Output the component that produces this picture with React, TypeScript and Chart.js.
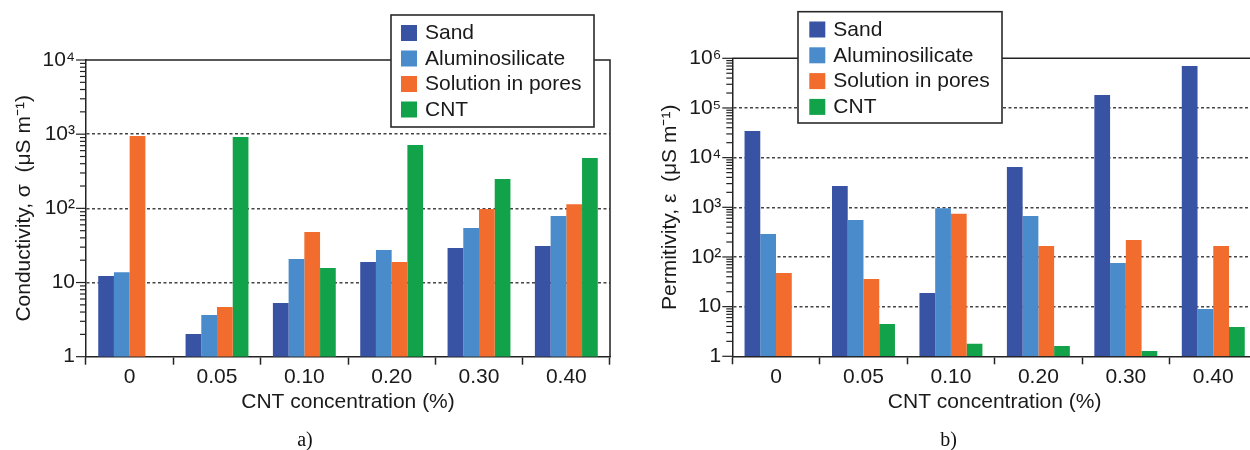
import React, { useEffect, useRef } from 'react';
import { Chart, registerables } from 'chart.js';

Chart.register(...registerables);
Chart.defaults.font.family = "'Liberation Sans', Arial, Helvetica, sans-serif";
Chart.defaults.color = '#1a1a1a';

// ---------- data ----------
const categories = ['0', '0.05', '0.10', '0.20', '0.30', '0.40'];
const seriesNames = ['Sand', 'Aluminosilicate', 'Solution in pores', 'CNT'];
const seriesColors = ['#3953a4', '#4a8bcb', '#f16c2d', '#12a34a'];

// a) Conductivity (µS m-1)
const condSand = [12.2, 2.02, 5.3, 18.9, 29.2, 31];
const condAlu = [13.8, 3.65, 20.7, 27.4, 54.2, 78.7];
const condSolution = [942, 4.68, 47.9, 18.9, 97.8, 114];
const condCNT = [null, 914, 15.7, 713, 248, 476];

// b) Permitivity (µS m-1)
const permSand = [34400, 2690, 18.8, 6470, 182000, 700000];
const permAlu = [290, 555, 954, 668, 75.6, 8.96];
const permSolution = [47.5, 36, 743, 166, 220, 166];
const permCNT = [null, 4.47, 1.79, 1.61, 1.28, 3.89];

const condRange = [1, 10000];
const permRange = [1, 1000000];

const xTitle = 'CNT concentration (%)';
const condTitle = 'Conductivity, σ  (μS m⁻¹)';
const permTitle = 'Permitivity, ε  (μS m⁻¹)';

// ---------- helpers ----------
const SUP: Record<string, string> = {
  '0': '⁰', '1': '¹', '2': '²', '3': '³', '4': '⁴', '5': '⁵', '6': '⁶', '7': '⁷', '8': '⁸', '9': '⁹', '-': '⁻',
};
function isDecade(v: number) {
  const l = Math.log10(v);
  return Math.abs(l - Math.round(l)) < 1e-6;
}
function decadeLabel(v: number) {
  if (!isDecade(v)) return '';
  const e = Math.round(Math.log10(v));
  if (e === 0) return '1';
  if (e === 1) return '10';
  return '10' + String(e).split('').map((c) => SUP[c]).join('');
}

const framePlugin = {
  id: 'frameTicks',
  afterDatasetsDraw(chart: any) {
    const { ctx, chartArea: a, scales } = chart;
    ctx.save();
    ctx.strokeStyle = '#222';
    ctx.lineWidth = 1.5;
    ctx.beginPath();
    ctx.moveTo(a.left, a.top);
    ctx.lineTo(a.right, a.top);
    ctx.lineTo(a.right, a.bottom);
    ctx.stroke();
    const y = scales.y;
    ctx.lineWidth = 1.2;
    const e0 = Math.floor(Math.log10(y.min));
    const e1 = Math.ceil(Math.log10(y.max));
    for (let e = e0; e <= e1; e++) {
      for (let m = 1; m <= 9; m++) {
        const v = m * Math.pow(10, e);
        if (v < y.min * 0.999 || v > y.max * 1.001) continue;
        const py = y.getPixelForValue(v);
        const len = m === 1 ? 10 : 6;
        ctx.beginPath();
        ctx.moveTo(a.left - len, py);
        ctx.lineTo(a.left, py);
        ctx.stroke();
      }
    }
    ctx.restore();
  },
};

function makeLegendPlugin(L: any) {
  return {
    id: 'boxLegend',
    afterDraw(chart: any) {
      const { ctx } = chart;
      ctx.save();
      ctx.fillStyle = '#ffffff';
      ctx.fillRect(L.x, L.y, L.w, L.h);
      ctx.strokeStyle = '#2a2a2a';
      ctx.lineWidth = 1.6;
      ctx.strokeRect(L.x, L.y, L.w, L.h);
      ctx.font = "21px 'Liberation Sans', Arial, sans-serif";
      ctx.textBaseline = 'middle';
      ctx.textAlign = 'left';
      chart.data.datasets.forEach((ds: any, i: number) => {
        const cy = L.row0 + i * L.step;
        ctx.fillStyle = ds.backgroundColor;
        ctx.fillRect(L.sqX, cy - L.sq / 2, L.sq, L.sq);
        ctx.fillStyle = '#1a1a1a';
        ctx.fillText(ds.label, L.textX, cy + 0.5);
      });
      ctx.restore();
    },
  };
}

function makeConfig(p: any) {
  const datasets = p.series.map((vals: any[], i: number) => ({
    label: seriesNames[i],
    data: vals,
    backgroundColor: seriesColors[i],
    borderWidth: 0,
  }));
  return {
    type: 'bar',
    data: { labels: categories, datasets },
    plugins: [framePlugin, makeLegendPlugin(p.legend)],
    options: {
      responsive: false,
      animation: false,
      devicePixelRatio: 1,
      layout: { padding: { top: p.padTop, right: p.padRight, left: 0, bottom: 0 } },
      datasets: { bar: { barPercentage: 1, categoryPercentage: 0.72 } },
      plugins: {
        legend: { display: false },
        tooltip: { enabled: false },
        title: {
          display: true,
          position: 'bottom',
          text: p.caption,
          color: '#111',
          font: { family: "'Liberation Serif', 'Times New Roman', serif", size: 20, weight: 'normal', lineHeight: 0.9 },
          padding: 0,
        },
      },
      scales: {
        x: {
          type: 'category',
          grid: { drawOnChartArea: false, drawTicks: true, tickLength: 8, tickColor: '#222', tickWidth: 1.5, offset: true },
          border: { display: true, color: '#222', width: 1.5 },
          ticks: { color: '#1a1a1a', font: { size: 21 }, padding: 0, maxRotation: 0, autoSkip: false },
          title: { display: true, text: xTitle, color: '#1a1a1a', font: { size: 21 }, padding: { top: 0, bottom: 17 } },
          afterFit: (s: any) => { s.height = p.xHeight; },
        },
        y: {
          type: 'logarithmic',
          min: p.range[0],
          max: p.range[1],
          grid: {
            drawTicks: false,
            lineWidth: 1.5,
            color: (c: any) => {
              const v = c.tick ? c.tick.value : NaN;
              if (!isFinite(v)) return 'rgba(0,0,0,0)';
              if (!isDecade(v) || v <= p.range[0] * 1.001 || v >= p.range[1] * 0.999) return 'rgba(0,0,0,0)';
              return '#444';
            },
          },
          border: { display: true, color: '#222', width: 1.5, dash: [3, 2.5] },
          ticks: {
            autoSkip: false,
            padding: 11,
            color: '#1a1a1a',
            font: { size: 21 },
            callback: (v: any) => decadeLabel(Number(v)),
          },
          title: { display: true, text: p.yTitle, color: '#1a1a1a', font: { size: 21 }, padding: { top: p.yTitlePad, bottom: 0 } },
          afterFit: (s: any) => { s.width = p.yWidth; },
        },
      },
    },
  };
}

const leftParams = {
  series: [condSand, condAlu, condSolution, condCNT],
  range: condRange,
  yTitle: condTitle,
  caption: 'a)',
  padTop: 60,
  padRight: 15,
  yWidth: 86,
  xHeight: 75.3,
  yTitlePad: 11.6,
  legend: { x: 391, y: 15, w: 203, h: 112, sqX: 401, textX: 425, row0: 33, step: 25.5, sq: 16 },
};

const rightParams = {
  series: [permSand, permAlu, permSolution, permCNT],
  range: permRange,
  yTitle: permTitle,
  caption: 'b)',
  padTop: 58.3,
  padRight: 15,
  yWidth: 92.3,
  xHeight: 75.7,
  yTitlePad: 17.4,
  legend: { x: 158, y: 11.7, w: 204, h: 111.3, sqX: 169.3, textX: 193.3, row0: 29.5, step: 25.8, sq: 16 },
};

function BarPanel({ params, left, width, height }: any) {
  const ref = useRef<HTMLCanvasElement | null>(null);
  useEffect(() => {
    if (!ref.current) return;
    const chart = new Chart(ref.current, makeConfig(params) as any);
    return () => chart.destroy();
  }, [params]);
  return (
    <canvas
      ref={ref}
      width={width}
      height={height}
      style={{ position: 'absolute', left, top: 0, width, height, display: 'block' }}
    />
  );
}

export default function App() {
  return (
    <div
      style={{
        position: 'fixed',
        left: 0,
        top: 0,
        width: 1250,
        height: 450,
        overflow: 'hidden',
        background: '#ffffff',
      }}
    >
      <BarPanel params={leftParams} left={0} width={625} height={450} />
      <BarPanel params={rightParams} left={640} width={632} height={450} />
    </div>
  );
}
